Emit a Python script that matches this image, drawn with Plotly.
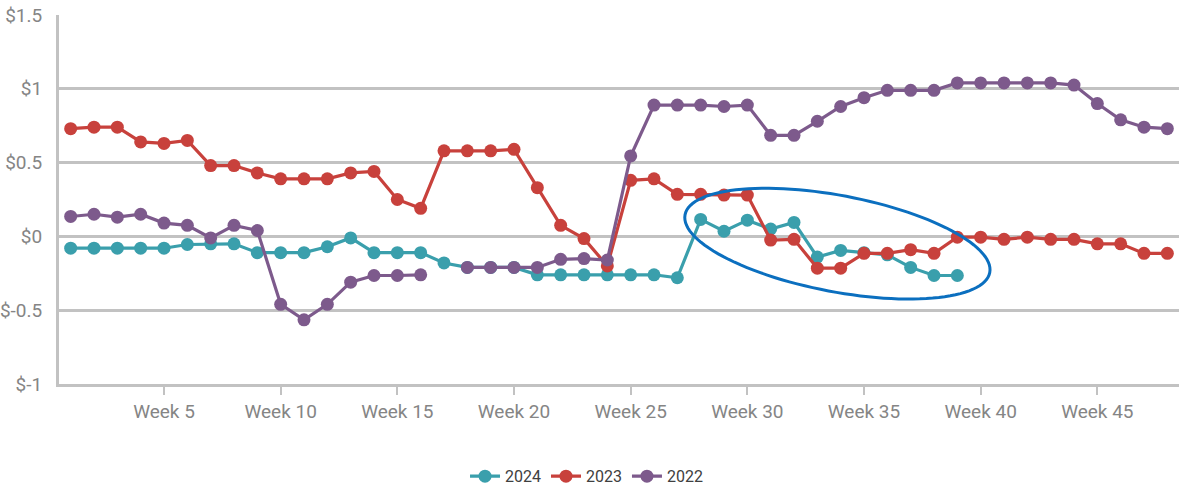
import numpy as np
import plotly.graph_objects as go

weeks = list(range(1, 49))
tick_weeks = [5, 10, 15, 20, 25, 30, 35, 40, 45]
tick_labels = [f"Week {w}" for w in tick_weeks]
y_ticks = [-1, -0.5, 0, 0.5, 1, 1.5]
y_tick_labels = ["$-1", "$-0.5", "$0", "$0.5", "$1", "$1.5"]

s2024 = [-0.08, -0.08, -0.08, -0.08, -0.08, -0.055, -0.05, -0.05, -0.11, -0.11,
         -0.11, -0.07, -0.01, -0.11, -0.11, -0.11, -0.18, -0.21, -0.21, -0.21,
         -0.26, -0.26, -0.26, -0.26, -0.26, -0.26, -0.28, 0.115, 0.035, 0.11,
         0.05, 0.095, -0.14, -0.095, -0.11, -0.125, -0.21, -0.265, -0.265]
s2023 = [0.73, 0.74, 0.74, 0.64, 0.63, 0.65, 0.48, 0.48, 0.43, 0.39,
         0.39, 0.39, 0.43, 0.44, 0.25, 0.19, 0.58, 0.58, 0.58, 0.59,
         0.33, 0.075, -0.015, -0.20, 0.38, 0.39, 0.285, 0.285, 0.28, 0.28,
         -0.025, -0.02, -0.215, -0.215, -0.115, -0.115, -0.09, -0.115, -0.005, -0.005,
         -0.02, -0.005, -0.02, -0.02, -0.05, -0.05, -0.115, -0.115]
s2022 = [0.135, 0.15, 0.13, 0.15, 0.09, 0.075, -0.01, 0.075, 0.04, -0.46,
         -0.565, -0.46, -0.31, -0.265, -0.265, -0.26, None, -0.21, -0.21, -0.21,
         -0.21, -0.155, -0.15, -0.16, 0.545, 0.89, 0.89, 0.89, 0.88, 0.89,
         0.685, 0.685, 0.78, 0.88, 0.94, 0.99, 0.99, 0.99, 1.04, 1.04,
         1.04, 1.04, 1.04, 1.025, 0.9, 0.79, 0.74, 0.73]

series = [("2024", s2024, "#3a9fac"), ("2023", s2023, "#c8413c"), ("2022", s2022, "#7d5a8c")]

FONT = "Roboto, Open Sans, sans-serif"
GRID = "#c2c2c2"
TICKCOL = "#858585"

fig = go.Figure()
for name, vals, col in series:
    fig.add_trace(go.Scatter(
        x=weeks[:len(vals)], y=vals, name=name, mode="lines+markers",
        line=dict(color=col, width=3.2),
        marker=dict(color=col, size=13),
        connectgaps=False,
    ))

# highlight ellipse (annotation), built in pixel space then mapped to data units
px_per_week = 23.325
px_per_unit = 147.2
cx, cy = 33.86, -0.049
a, b, theta = 155.0, 48.0, np.deg2rad(10.7)
t = np.linspace(0, 2 * np.pi, 121)
dx = a * np.cos(t) * np.cos(theta) - b * np.sin(t) * np.sin(theta)
dy = a * np.cos(t) * np.sin(theta) + b * np.sin(t) * np.cos(theta)
xs = cx + dx / px_per_week
ys = cy - dy / px_per_unit
path = "M " + " L ".join(f"{x:.4f},{y:.4f}" for x, y in zip(xs, ys)) + " Z"
fig.add_shape(type="path", path=path, xref="x", yref="y",
              line=dict(color="#0b6fbf", width=3), layer="above")

fig.update_layout(
    width=1180, height=494,
    margin=dict(l=59, r=1, t=15, b=105),
    paper_bgcolor="white", plot_bgcolor="white",
    font=dict(family=FONT, color=TICKCOL, size=19),
    showlegend=True,
    legend=dict(orientation="h", x=0.471, xanchor="center", y=-0.25, yanchor="middle",
                font=dict(family=FONT, size=16, color="#404040"),
                itemwidth=30, tracegroupgap=0),
)
fig.update_xaxes(
    range=[0.5, 48.5], tickvals=tick_weeks, ticktext=tick_labels,
    showgrid=False, zeroline=False, automargin=False,
    showline=True, linecolor=GRID, linewidth=3,
    ticks="outside", ticklen=8, tickwidth=2, tickcolor=GRID,
    tickfont=dict(family=FONT, size=19, color=TICKCOL),
)
fig.update_yaxes(
    range=[-1, 1.5], tickvals=y_ticks, ticktext=y_tick_labels,
    showgrid=True, gridcolor=GRID, gridwidth=3,
    zeroline=False, showline=True, linecolor=GRID, linewidth=3,
    ticks="", ticklabelstandoff=10, automargin=False,
    tickfont=dict(family=FONT, size=19, color=TICKCOL),
)

page_fix = (
    "document.documentElement.style.overflow='hidden';"
    "document.body.style.margin='0';"
    "document.body.style.overflow='hidden';"
    "document.body.style.height='494px';"
)
fig.write_html("out.html", config={"displayModeBar": False}, post_script=page_fix)
